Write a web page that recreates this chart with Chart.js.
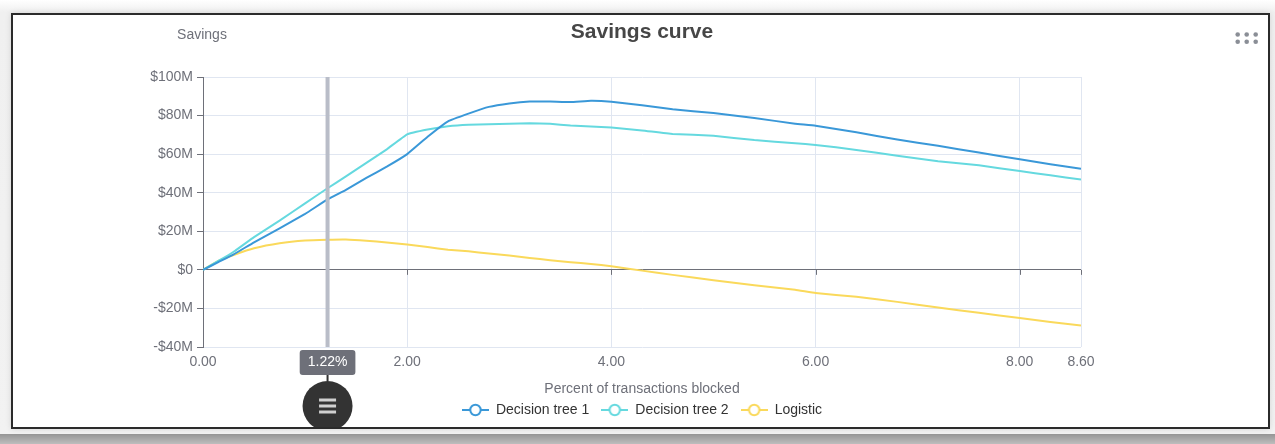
<!DOCTYPE html>
<html>
<head>
<meta charset="utf-8">
<script src="https://cdn.jsdelivr.net/npm/chart.js@4.4.1/dist/chart.umd.min.js"></script>
<style>
  html, body { margin: 0; padding: 0; }
  body {
    width: 1275px; height: 444px; overflow: hidden; position: relative;
    background: linear-gradient(#ffffff 0px, #f0f0f0 12px, #f2f2f2 100%);
    font-family: "Liberation Sans", Arial, sans-serif;
  }
  #shade {
    position: absolute; left: 0; top: 434px; width: 1275px; height: 10px;
    background: linear-gradient(#959595, #bdbdbd);
  }
  #box {
    position: absolute; left: 11px; top: 13px; width: 1259px; height: 416px;
    box-sizing: border-box; border: 2px solid #2b2b2b; background: #fff;
    overflow: hidden; box-shadow: 0 0 6px rgba(0,0,0,0.12);
  }
  #box canvas { position: absolute; left: 0; top: 0; }
</style>
</head>
<body>
<div id="shade"></div>
<div id="box"><canvas id="grafica" width="1255" height="412"></canvas></div>
<script>
// porcentaje de transacciones bloqueadas (eje x)
const xs = [0, 0.15, 0.3, 0.5, 0.75, 1.0, 1.22, 1.4, 1.6, 1.8, 2.0, 2.2, 2.4, 2.6, 2.8, 3.0, 3.2, 3.4,
  3.6, 3.8, 4.0, 4.3, 4.6, 5.0, 5.4, 5.8, 6.0, 6.4, 6.8, 7.2, 7.6, 8.0, 8.3, 8.6];
// ahorro en millones de dolares
const tree1 = [0, 4, 8, 14.3, 21.5, 29, 36.5, 41.5, 47.7, 53.5, 60, 69, 77, 81, 84.5, 86.3, 87.3, 87.3,
  87.0, 87.7, 87.2, 85.3, 83.3, 81.3, 78.7, 75.8, 74.7, 71.3, 67.6, 64.3, 60.8, 57.3, 54.8, 52.4];
const tree2 = [0, 4.6, 9.4, 17, 25.5, 34.5, 42.3, 48.5, 55.5, 62.5, 70.3, 72.8, 74.5, 75.3, 75.5, 75.8, 76.0, 75.7,
  74.8, 74.3, 73.8, 72.3, 70.5, 69.5, 67.3, 65.6, 64.8, 62.2, 59.2, 56.3, 54.2, 51.2, 49.0, 46.8];
const logistic = [0, 4.6, 7.7, 11.2, 13.8, 15.2, 15.6, 15.7, 15.1, 14.2, 13.1, 11.8, 10.4, 9.6, 8.5, 7.4, 6.2, 5.0,
  4.0, 3.0, 1.9, -0.4, -2.6, -5.4, -8, -10.3, -12, -14, -16.6, -19.5, -22.3, -25, -27, -28.9];
const seriesNames = ["Decision tree 1", "Decision tree 2", "Logistic"];
const xTicks = [0, 2, 4, 6, 8, 8.6];
const yTicks = [-40, -20, 0, 20, 40, 60, 80, 100];
const markX = 1.22;

const colores = ["#3a98d8", "#65d9df", "#fad95b"];
const gris = "#6e7079";
const rejilla = "#e0e6f1";

// icono de leyenda: linea con circulo hueco
const icono = (color) => {
  const c = document.createElement("canvas");
  c.width = 27; c.height = 14;
  const g = c.getContext("2d");
  g.strokeStyle = color; g.lineWidth = 2;
  g.beginPath(); g.moveTo(0, 7); g.lineTo(27, 7); g.stroke();
  g.beginPath(); g.arc(13.5, 7, 5.2, 0, Math.PI * 2);
  g.fillStyle = "#fff"; g.fill(); g.stroke();
  return c;
};

const puntos = (ys) => xs.map((x, i) => ({ x: x, y: ys[i] }));

// extras dibujados sobre el grafico: marcador, ticks del cero, etiquetas
const extras = {
  id: "extras",
  afterDraw(chart) {
    const { ctx, chartArea, scales } = chart;
    const x = scales.x, y = scales.y;
    const y0 = y.getPixelForValue(0);
    ctx.save();
    // ticks sobre la linea del cero
    ctx.strokeStyle = gris; ctx.lineWidth = 1;
    xTicks.forEach((v) => {
      if (v === 0) return;
      const px = Math.round(x.getPixelForValue(v)) + 0.5;
      ctx.beginPath(); ctx.moveTo(px, y0); ctx.lineTo(px, y0 + 5); ctx.stroke();
    });
    // linea marcador
    const mx = x.getPixelForValue(markX);
    ctx.fillStyle = "#b9bdc8";
    ctx.fillRect(mx - 2, chartArea.top, 4, chartArea.bottom - chartArea.top);
    // etiqueta del marcador
    ctx.font = "14px 'Liberation Sans', Arial, sans-serif";
    const txt = markX.toFixed(2) + "%";
    const w = ctx.measureText(txt).width + 16;
    ctx.fillStyle = gris;
    ctx.beginPath();
    ctx.roundRect(mx - w / 2, chartArea.bottom + 3, w, 25, 3);
    ctx.fill();
    ctx.fillStyle = "#fff"; ctx.textAlign = "center"; ctx.textBaseline = "middle";
    ctx.fillText(txt, mx, chartArea.bottom + 15.5);
    // boton redondo
    ctx.fillStyle = "#333";
    ctx.fillRect(mx - 1, chartArea.bottom + 28, 2, 6);
    ctx.beginPath(); ctx.arc(mx, chartArea.bottom + 59, 25, 0, Math.PI * 2); ctx.fill();
    ctx.fillStyle = "#d0d0d0";
    [-6, 0, 6].forEach((d) => ctx.fillRect(mx - 8.5, chartArea.bottom + 57.5 + d, 17, 3));
    // nombre del eje y
    ctx.fillStyle = gris; ctx.font = "14px 'Liberation Sans', Arial, sans-serif";
    ctx.fillText("Savings", chartArea.left - 1, 20);
    // menu de tres puntos
    ctx.fillStyle = "#8a8e96";
    [1224.7, 1233.7, 1242.7].forEach((dx) => [19.5, 26.8].forEach((dy) => {
      ctx.beginPath(); ctx.arc(dx, dy, 2.3, 0, Math.PI * 2); ctx.fill();
    }));
    ctx.restore();
  },
};

const grafica = document.getElementById("grafica");
const data = {
  datasets: [tree1, tree2, logistic].map((ys, i) => ({
    label: seriesNames[i],
    data: puntos(ys),
    borderColor: colores[i],
    backgroundColor: colores[i],
    borderWidth: 2,
    pointRadius: 0,
    tension: 0.1,
  })),
};
const fuente = { family: "'Liberation Sans', Arial, sans-serif", size: 14 };
const config = {
  type: "line",
  data: data,
  plugins: [extras],
  options: {
    responsive: false,
    animation: false,
    devicePixelRatio: 1,
    layout: { padding: { left: 0, right: 187, top: 0, bottom: 0 } },
    plugins: {
      tooltip: { enabled: false },
      title: {
        display: true,
        fullSize: false,
        text: "Savings curve",
        color: "#464646",
        font: { family: fuente.family, size: 21, weight: "bold" },
        padding: { top: 4.4, bottom: 32.4 },
      },
      legend: {
        position: "bottom",
        fullSize: false,
        labels: {
          color: "#333",
          font: { family: fuente.family, size: 14 },
          usePointStyle: true,
          pointStyleWidth: 27,
          padding: 12,
          generateLabels: (chart) =>
            chart.data.datasets.map((ds, i) => ({
              text: ds.label,
              pointStyle: icono(colores[i]),
              fontColor: "#333",
              strokeStyle: colores[i],
              fillStyle: "#fff",
              lineWidth: 0,
              hidden: false,
              datasetIndex: i,
            })),
        },
      },
    },
    scales: {
      x: {
        type: "linear",
        min: 0,
        max: 8.6,
        afterBuildTicks: (scale) => { scale.ticks = xTicks.map((v) => ({ value: v })); },
        ticks: { color: gris, font: fuente, padding: 7, maxRotation: 0, callback: (v) => v.toFixed(2) },
        grid: { color: rejilla, drawTicks: false },
        border: { display: false },
        title: {
          display: true,
          text: "Percent of transactions blocked",
          color: gris,
          font: fuente,
          padding: { top: 2.8, bottom: -6.4 },
        },
      },
      y: {
        min: -40,
        max: 100,
        afterBuildTicks: (scale) => { scale.ticks = yTicks.map((v) => ({ value: v })); },
        afterFit: (scale) => { scale.width = 190; },
        ticks: {
          color: gris, font: fuente, padding: 4,
          callback: (v) => (v === 0 ? "$0" : (v < 0 ? "-$" : "$") + Math.abs(v) + "M"),
        },
        grid: {
          color: (ctx) => (ctx.tick && ctx.tick.value === 0 ? gris : rejilla),
          tickColor: gris,
          tickLength: 6,
        },
        border: { color: gris },
      },
    },
  },
};
new Chart(grafica, config);
</script>
</body>
</html>
